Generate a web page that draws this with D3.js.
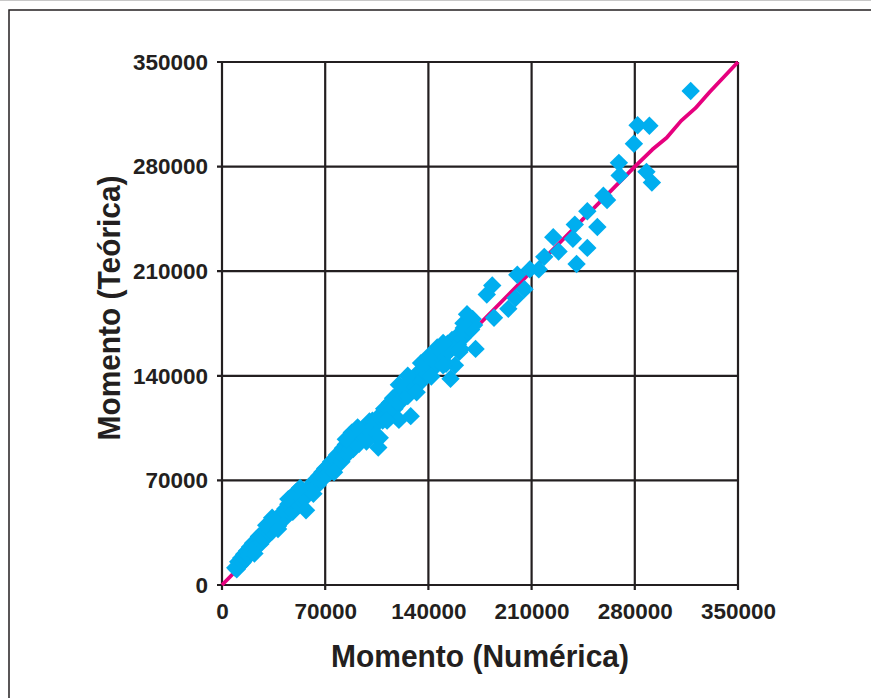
<!DOCTYPE html>
<html>
<head>
<meta charset="utf-8">
<script src="https://cdn.jsdelivr.net/npm/d3@7"></script>
<style>
  html, body { margin: 0; padding: 0; background: #fff; }
  svg { display: block; }
  text { font-family: "Liberation Sans", Arial, sans-serif; font-weight: bold; fill: #231f20; }
</style>
</head>
<body>
<svg id="chart" width="871" height="698"></svg>
<script>
// Momento numérico (eixo X) e teórico (eixo Y)
const numerica = [
  9000, 10000, 11000, 12000, 13000, 14000, 15000, 16000, 17000, 18000,
  19000, 20000, 21000, 22000, 23000, 24000, 25000, 26000, 27000, 28000,
  29000, 30000, 31000, 32000, 33000, 34000, 35000, 36000, 37000, 38000,
  39000, 40000, 41000, 42000, 43000, 44000, 45000, 46000, 47000, 48000,
  49000, 50000, 51000, 52000, 53000, 54000, 55000, 56000, 57000, 58000,
  59000, 60000, 61000, 62000, 63000, 64000, 65000, 66000, 67000, 68000,
  69000, 70000, 71000, 72000, 73000, 74000, 75000, 76000, 77000, 78000,
  79000, 80000, 81000, 82000, 83000, 84000, 85000, 86000, 87000, 88000,
  89000, 90000, 91000, 92000, 93000, 94000, 95000, 96000, 97000, 98000,
  99000, 100000, 101000, 102000, 103000, 104000, 105000, 106000, 107000, 108000,
  109000, 110000, 111000, 112000, 113000, 114000, 115000, 116000, 117000, 118000,
  119000, 120000, 121000, 122000, 123000, 124000, 125000, 126000, 127000, 128000,
  129000, 130000, 131000, 132000, 133000, 134000, 135000, 136000, 137000, 138000,
  139000, 140000, 141000, 142000, 143000, 144000, 145000, 146000, 147000, 148000,
  149000, 150000, 151000, 152000, 153000, 154000, 155000, 156000, 157000, 158000,
  159000, 160000, 161000, 162000, 163000, 164000, 165000, 166000, 167000, 168000,
  169000, 170000, 171000, 172000, 163800, 166200,
  30000, 34000, 45000, 50000, 53000, 84000, 88000, 92000, 120000, 126000,
  135000, 140000, 146000, 150000,
  22000, 38000, 62000, 76000, 98000, 112000, 132000, 142000, 150000, 162000,
  179600, 183300, 184500, 194200, 199100, 200300, 205200, 208800, 214900, 218600,
  224700, 228300, 238000, 239300, 240500, 247800, 247800, 254600, 258700, 261200,
  269200, 269700, 279400, 281900, 289900, 287900, 291600, 317900
];
const teorica = [
  11500, 10500, 15500, 13000, 18000, 15000, 20500, 17500, 23000, 19500,
  25500, 22000, 28000, 24000, 29000, 26500, 32500, 27500, 33500, 31000,
  36000, 32000, 37000, 35000, 40500, 36000, 41500, 38500, 44000, 39500,
  45500, 43000, 48500, 44000, 51000, 47000, 54000, 48500, 55500, 49000,
  56500, 53500, 59000, 53500, 60000, 57000, 63000, 58000, 50000, 64500,
  62000, 66000, 63500, 69000, 66500, 70500, 67000, 73000, 70000, 75500,
  71500, 78000, 74000, 79500, 75500, 82500, 78500, 84000, 79000, 87000,
  82500, 88500, 82500, 91500, 86000, 94000, 87500, 95000, 91000, 99000,
  91000, 99500, 94500, 102000, 94500, 102500, 99000, 105000, 99000, 106000,
  103000, 109500, 102000, 110000, 106000, 100500, 110000, 92000, 98500, 114500,
  110000, 118000, 113000, 119000, 112500, 122000, 117500, 125000, 118000, 126500,
  122000, 110500, 128500, 123500, 132000, 126500, 132000, 126500, 135000, 113000,
  132000, 138500, 132500, 139500, 136000, 143000, 136000, 144000, 140500, 147500,
  141000, 148000, 144000, 151000, 144500, 152500, 148500, 156000, 149000, 157000,
  152000, 158000, 153500, 148000, 161500, 156500, 138000, 164000, 159500, 147000,
  165000, 161000, 156000, 169000, 165000, 172000, 168000, 175000, 169500, 176500,
  171000, 178000, 174000, 158000, 175200, 181200,
  40000, 45000, 57500, 62000, 65000, 97500, 102000, 105500, 134000, 140000,
  148500, 153000, 159000, 162000,
  21000, 37500, 61000, 75500, 96000, 110000, 129000, 139500, 147000, 158000,
  194400, 200400, 178800, 184800, 192000, 207600, 198000, 211200, 211200, 219600,
  232800, 223200, 231700, 241200, 214800, 225600, 250100, 239600, 260500, 257600,
  282500, 274100, 295300, 307700, 307300, 276500, 269300, 330600
];

// Curva de referência (teoria x numérico)
const curvaX = [0, 70000, 140000, 210000, 280000, 291900, 301600, 311400, 321100, 330800, 350000];
const curvaY = [0, 70000, 140000, 210000, 280000, 291400, 299300, 310600, 319100, 329900, 350000];

const ticksX = [0, 70000, 140000, 210000, 280000, 350000];
const ticksY = [0, 70000, 140000, 210000, 280000, 350000];

const pontos = numerica.map((v, i) => ({ x: v, y: teorica[i] }));
const curva = curvaX.map((v, i) => ({ x: v, y: curvaY[i] }));

const svg = d3.select("#chart");
const ink = "#231f20";

// Moldura externa
svg.append("line").attr("x1", 0).attr("x2", 871).attr("y1", 0.5).attr("y2", 0.5)
  .attr("stroke", "#c8c8c8").attr("stroke-width", 1);
svg.append("rect").attr("x", 9).attr("y", 10).attr("width", 880).attr("height", 700)
  .attr("fill", "none").attr("stroke", ink).attr("stroke-width", 1.5);

const plotL = 222, plotR = 738, plotT = 62, plotB = 585;
const x = d3.scaleLinear().domain([0, 350000]).range([plotL, plotR]);
const y = d3.scaleLinear().domain([0, 350000]).range([plotB, plotT]);

// Grade (com pequenas marcas para fora do eixo)
const grid = svg.append("g").attr("stroke", ink).attr("stroke-width", 2.2);
grid.selectAll(".gx").data(ticksX).join("line")
  .attr("x1", d => x(d)).attr("x2", d => x(d))
  .attr("y1", plotT).attr("y2", plotB + 5);
grid.selectAll(".gy").data(ticksY).join("line")
  .attr("x1", plotL - 5).attr("x2", plotR)
  .attr("y1", d => y(d)).attr("y2", d => y(d));

// Rótulos dos eixos
const axX = svg.append("g").attr("transform", `translate(0,${plotB})`)
  .call(d3.axisBottom(x).tickValues(ticksX).tickSize(0).tickPadding(18).tickFormat(d3.format("d")));
const axY = svg.append("g").attr("transform", `translate(${plotL},0)`)
  .call(d3.axisLeft(y).tickValues(ticksY).tickSize(0).tickPadding(14).tickFormat(d3.format("d")));
[axX, axY].forEach(a => {
  a.select(".domain").remove();
  a.selectAll("text").style("font-size", "22.5px").style("font-family", "'Liberation Sans', Arial, sans-serif")
    .style("font-weight", "bold").attr("fill", ink);
});

// Curva
svg.append("path").datum(curva)
  .attr("fill", "none").attr("stroke", "#e6007e").attr("stroke-width", 3.8)
  .attr("stroke-linejoin", "round")
  .attr("d", d3.line().x(d => x(d.x)).y(d => y(d.y)));

// Pontos (losangos)
const r = 9.2;
svg.append("g").selectAll("path").data(pontos).join("path")
  .attr("fill", "#00aeef")
  .attr("d", d => {
    const cx = x(d.x), cy = y(d.y);
    return `M${cx},${cy - r}L${cx + r},${cy}L${cx},${cy + r}L${cx - r},${cy}Z`;
  });

// Títulos
svg.append("text").attr("x", (plotL + plotR) / 2).attr("y", 667)
  .attr("text-anchor", "middle").style("font-size", "32px")
  .attr("textLength", 298).attr("lengthAdjust", "spacingAndGlyphs")
  .text("Momento (Numérica)");
svg.append("text")
  .attr("transform", `translate(120,308) rotate(-90)`)
  .attr("text-anchor", "middle").style("font-size", "32px")
  .attr("textLength", 265).attr("lengthAdjust", "spacingAndGlyphs")
  .text("Momento (Teórica)");
</script>
</body>
</html>
